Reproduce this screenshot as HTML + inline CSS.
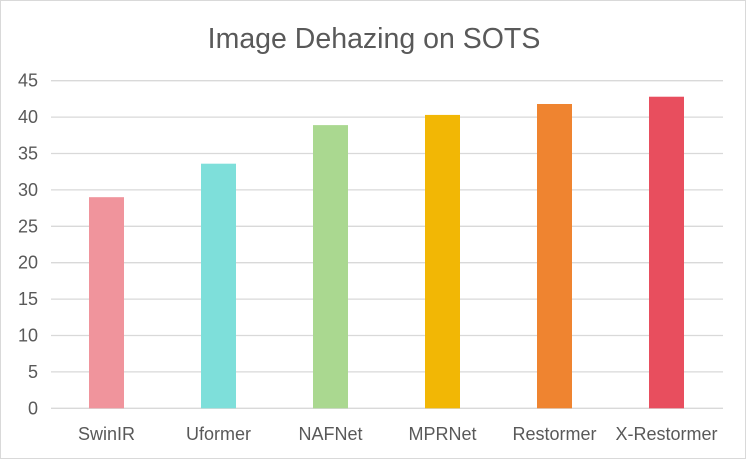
<!DOCTYPE html>
<html><head><meta charset="utf-8"><style>
html,body{margin:0;padding:0;background:#fff;}
#wrap{width:746px;height:459px;position:relative;box-sizing:border-box;border:1px solid #d9d9d9;background:#fff;}
svg{position:absolute;left:0;top:0;font-family:"Liberation Sans",sans-serif;}
</style></head><body>
<div id="wrap">
<svg id="chart" width="746" height="459">
<text x="373" y="47" text-anchor="middle" font-size="28.5" fill="#595959">Image Dehazing on SOTS</text>
</svg></div>
<script>
const categories = ["SwinIR","Uformer","NAFNet","MPRNet","Restormer","X-Restormer"];
const values = [29.0, 33.6, 38.9, 40.3, 41.8, 42.8];
const colors = ["#f0949c","#7edfda","#aad890","#f2b705","#ef8430","#e84e5e"];
const yTicks = [0,5,10,15,20,25,30,35,40,45];
const svg = document.getElementById('chart');
const NS = 'http://www.w3.org/2000/svg';
const x0 = 50, x1 = 722, yBase = 407.3, yTop = 79.7, yMax = 45;
const bx0 = 49.5, band = 112;
function y(v){ return yBase - (yBase - yTop) * v / yMax; }
function xc(i){ return bx0 + band * (i + 0.5); }
function mk(tag, attrs){ const e = document.createElementNS(NS, tag); for (const k in attrs) e.setAttribute(k, attrs[k]); svg.appendChild(e); return e; }
yTicks.forEach(t => {
  const l = mk('line', {x1: x0, x2: x1, y1: y(t), y2: y(t), stroke: '#d9d9d9', 'stroke-width': 1.3});
  
  
  const tx = mk('text', {x: 37, y: y(t) + 6, 'text-anchor': 'end', 'font-size': 18, fill: '#595959'});
  tx.textContent = t;
  
  
});
categories.forEach((c, i) => {
  const w = 35;
  const r = mk('rect', {x: xc(i) - w / 2, y: y(values[i]), width: w, height: yBase - y(values[i]), fill: colors[i]});
  
  
  const t = mk('text', {x: xc(i), y: 439, 'text-anchor': 'middle', 'font-size': 18, fill: '#595959'});
  t.textContent = c;
  
  
});
</script>
</body></html>
